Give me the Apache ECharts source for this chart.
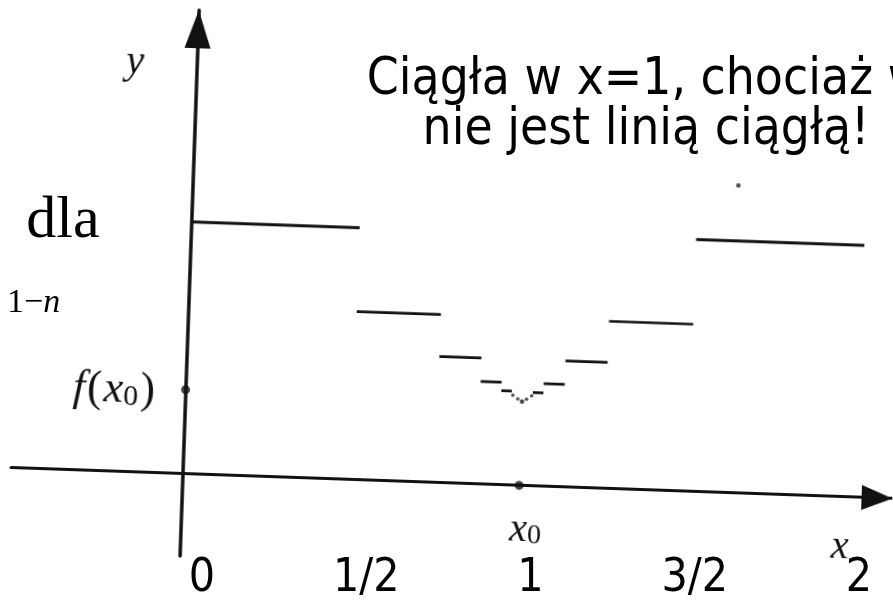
<!DOCTYPE html>
<html><head><meta charset="utf-8">
<script src="https://cdn.jsdelivr.net/npm/echarts@6/dist/echarts.min.js"></script>
<style>
html,body{margin:0;padding:0;background:#fff;overflow:hidden;width:893px;height:600px;}
#plot{position:absolute;left:0;top:0;width:893px;height:600px;background:#fff;transform-origin:183px 473px;transform:rotate(2deg);}
#over{position:absolute;left:0;top:0;width:893px;height:600px;}
</style></head><body>
<div id="plot"></div><div id="over"></div>
<script>
// step segments of the function
const segStart = [0, 0.5, 0.75, 0.875, 0.9375, 1.03125, 1.0625, 1.125, 1.25, 1.5];
const segEnd   = [0.5, 0.75, 0.875, 0.9375, 0.96875, 1.0625, 1.125, 1.25, 1.5, 2];
const segValue = [3.0, 2.0, 1.5, 1.22, 1.12, 1.11, 1.22, 1.5, 1.99, 3.0];
// small dots accumulating towards x0
const dotX = [0.972, 0.987, 1.013, 1.028];
const dotY = [1.07, 1.03, 1.03, 1.07];
const valueAtX0 = [[1, 1.0]];
// marked points on the axes: f(x0) on y axis, x0 on x axis
const markedX = [0, 1];
const markedY = [1.0, 0];
const strayDot = [[1.62, 3.66]];
// tick labels
const tickValues = [0, 0.5, 1, 1.5, 2];
const tickLabels = ['0', '1/2', '1', '3/2', '2'];
const titleLines = ['Ciągła w x=1, chociaż w', 'nie jest linią ciągłą!'];

const ink = '#111';
const serif = '"Liberation Serif", "DejaVu Serif", serif';
const sans = '"DejaVu Sans Condensed", "DejaVu Sans", sans-serif';

const plot = echarts.init(document.getElementById('plot'), null, {renderer: 'canvas'});
const series = segStart.map((s, i) => ({
  type: 'line', data: [[s, segValue[i]], [segEnd[i], segValue[i]]],
  symbol: 'none', silent: true, animation: false,
  lineStyle: {color: ink, width: i === 0 || i === segStart.length - 1 ? 3 : 2.7}
}));
series.push({type: 'scatter', data: dotX.map((x, i) => [x, dotY[i]]), symbolSize: 3.5, itemStyle: {color: '#222'}, silent: true, animation: false});
series.push({type: 'scatter', data: valueAtX0, symbolSize: 4.5, itemStyle: {color: '#111'}, silent: true, animation: false});
series.push({type: 'scatter', data: markedX.map((x, i) => [x, markedY[i]]), symbolSize: 9, itemStyle: {color: ink}, silent: true, animation: false, z: 5});
series.push({type: 'scatter', data: strayDot, symbolSize: 4.5, itemStyle: {color: '#222'}, silent: true, animation: false});

plot.setOption({
  backgroundColor: '#fff',
  animation: false,
  grid: {left: 11, right: 0, top: 10, bottom: 44, outerBoundsMode: 'none'},
  xAxis: {
    type: 'value', min: -0.51, max: 2.11,
    axisLine: {show: true, onZero: true, symbol: ['none', 'triangle'], symbolSize: [25, 31], symbolOffset: [0, -15.5], lineStyle: {color: ink, width: 3}},
    axisTick: {show: false}, axisLabel: {show: false}, splitLine: {show: false}
  },
  yAxis: {
    type: 'value', min: -0.98, max: 5.52,
    axisLine: {show: true, onZero: true, symbol: ['none', 'triangle'], symbolSize: [26, 38], symbolOffset: [0, -19], lineStyle: {color: ink, width: 3.5}},
    axisTick: {show: false}, axisLabel: {show: false}, splitLine: {show: false}
  },
  graphic: [
    {type: 'text', x: 121, y: 64, style: {text: 'y', fontFamily: serif, fontStyle: 'italic', fontSize: 40, fill: ink, align: 'center', verticalAlign: 'middle', textAlign: 'center', textVerticalAlign: 'middle'}},
    {type: 'text', x: 842, y: 524, style: {text: 'x', fontFamily: serif, fontStyle: 'italic', fontSize: 40, fill: ink, align: 'center', verticalAlign: 'middle', textAlign: 'center', textVerticalAlign: 'middle'}},
    {type: 'text', x: 527, y: 518, style: {
      text: '{i|x}{s|0}', fill: ink, align: 'center', verticalAlign: 'middle', textAlign: 'center', textVerticalAlign: 'middle',
      rich: {
        i: {fontFamily: serif, fontStyle: 'italic', fontSize: 40, lineHeight: 40, verticalAlign: 'middle', fill: ink},
        s: {fontFamily: serif, fontSize: 28, lineHeight: 24, verticalAlign: 'bottom', fill: ink}
      }}},
    {type: 'text', x: 112, y: 392, style: {
      text: '{i|f}{p|(}{i|x}{s|0}{p|)}', fill: ink, align: 'center', verticalAlign: 'middle', textAlign: 'center', textVerticalAlign: 'middle',
      rich: {
        i: {fontFamily: serif, fontStyle: 'italic', fontSize: 44, lineHeight: 44, verticalAlign: 'middle', fill: ink},
        p: {fontFamily: serif, fontSize: 44, lineHeight: 44, verticalAlign: 'middle', fill: ink, padding: [0, 2, 0, 2]},
        s: {fontFamily: serif, fontSize: 30, lineHeight: 26, verticalAlign: 'bottom', fill: ink}
      }}}
  ],
  series: series
});

const over = echarts.init(document.getElementById('over'), null, {renderer: 'canvas'});
over.setOption({
  backgroundColor: 'transparent',
  animation: false,
  grid: {left: 202, right: 34, top: 0, bottom: 50, outerBoundsMode: 'none'},
  xAxis: {
    type: 'value', min: 0, max: 2, interval: 0.5,
    axisLine: {show: false, onZero: false}, axisTick: {show: false}, splitLine: {show: false},
    axisLabel: {
      show: true, showMinLabel: true, showMaxLabel: true, margin: 6,
      formatter: v => { const k = tickValues.indexOf(v); return k >= 0 ? tickLabels[k] : ''; },
      fontFamily: sans, fontSize: 46, lineHeight: 46, color: '#000'
    }
  },
  yAxis: {type: 'value', show: false},
  graphic: [
    {type: 'text', x: 646, y: 106, style: {
      text: titleLines.join('\n'), fontFamily: sans, fontSize: 51, lineHeight: 50, fill: '#000',
      align: 'center', verticalAlign: 'middle', textAlign: 'center', textVerticalAlign: 'middle'}},
    {type: 'text', x: 63, y: 221, style: {
      text: 'dla', fontFamily: serif, fontSize: 60, fill: '#000',
      align: 'center', verticalAlign: 'middle', textAlign: 'center', textVerticalAlign: 'middle'}},
    {type: 'text', x: 7, y: 303, style: {
      text: '{a|1−}{b|n}', fill: '#000', align: 'left', verticalAlign: 'middle', textAlign: 'left', textVerticalAlign: 'middle',
      rich: {
        a: {fontFamily: serif, fontSize: 34, fill: '#000'},
        b: {fontFamily: serif, fontStyle: 'italic', fontSize: 34, fill: '#000'}
      }}}
  ],
  series: []
});
</script>
</body></html>
